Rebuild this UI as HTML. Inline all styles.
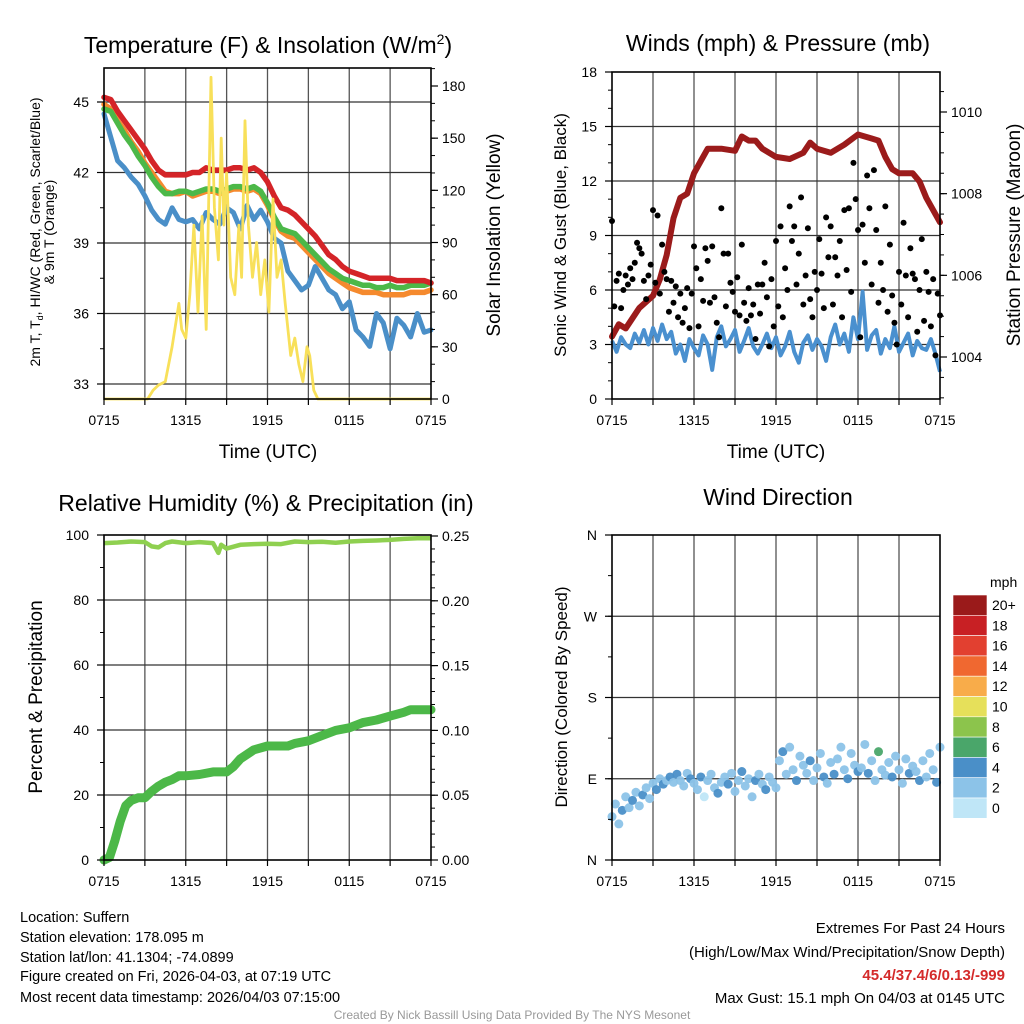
<!DOCTYPE html>
<html><head><meta charset="utf-8">
<style>
html,body{margin:0;padding:0;background:#fff;}
svg{display:block;font-family:"Liberation Sans",Arial,sans-serif;}
</style></head>
<body>
<svg id="chart" width="1024" height="1024" viewBox="0 0 1024 1024" xmlns="http://www.w3.org/2000/svg">
<g id="static">
<text x="268" y="53" font-size="23" text-anchor="middle">Temperature (F) &amp; Insolation (W/m<tspan font-size="14" dy="-9">2</tspan><tspan dy="9">)</tspan></text>
<text x="778" y="51" font-size="23" text-anchor="middle">Winds (mph) &amp; Pressure (mb)</text>
<text x="266" y="511" font-size="23" text-anchor="middle">Relative Humidity (%) &amp; Precipitation (in)</text>
<text x="778" y="505" font-size="23" text-anchor="middle">Wind Direction</text>

<text x="268" y="458" font-size="19" text-anchor="middle">Time (UTC)</text>
<text x="776" y="458" font-size="19" text-anchor="middle">Time (UTC)</text>

<g font-size="14" text-anchor="middle">
<text transform="translate(40,232) rotate(-90)">2m T, T<tspan font-size="9" dy="3">d</tspan><tspan dy="-3">, HI/WC (Red, Green, Scarlet/Blue)</tspan></text>
<text transform="translate(54,232) rotate(-90)">&amp; 9m T (Orange)</text>
</g>
<text transform="translate(500,235) rotate(-90)" font-size="19" text-anchor="middle">Solar Insolation (Yellow)</text>
<text transform="translate(566,235) rotate(-90)" font-size="17" text-anchor="middle">Sonic Wind &amp; Gust (Blue, Black)</text>
<text transform="translate(1020,235) rotate(-90)" font-size="19" text-anchor="middle">Station Pressure (Maroon)</text>
<text transform="translate(42,697) rotate(-90)" font-size="19" text-anchor="middle">Percent &amp; Precipitation</text>
<text transform="translate(567,697) rotate(-90)" font-size="17" text-anchor="middle">Direction (Colored By Speed)</text>

<g font-size="14.5">
<text x="20" y="922">Location: Suffern</text>
<text x="20" y="942">Station elevation: 178.095 m</text>
<text x="20" y="962">Station lat/lon: 41.1304; -74.0899</text>
<text x="20" y="981">Figure created on Fri, 2026-04-03, at 07:19 UTC</text>
<text x="20" y="1002">Most recent data timestamp: 2026/04/03 07:15:00</text>
</g>
<g font-size="15" text-anchor="end">
<text x="1005" y="933">Extremes For Past 24 Hours</text>
<text x="1005" y="957">(High/Low/Max Wind/Precipitation/Snow Depth)</text>
<text x="1005" y="980" fill="#d42a2a" font-weight="bold">45.4/37.4/6/0.13/-999</text>
<text x="1005" y="1003">Max Gust: 15.1 mph On 04/03 at 0145 UTC</text>
</g>
<text x="512" y="1019" font-size="12" fill="#999" text-anchor="middle">Created By Nick Bassill Using Data Provided By The NYS Mesonet</text>
</g>
<g id="dyn"></g>
</svg>
<script>
// ---------- data ----------
const timeTickLabels = ["0715","1315","1915","0115","0715"];
const tempTickValues = [33,36,39,42,45];
const insolTickValues = [0,30,60,90,120,150,180];
const windTickValues = [0,3,6,9,12,15,18];
const pressTickValues = [1004,1006,1008,1010];
const rhTickValues = [0,20,40,60,80,100];
const precipTickValues = [0,0.05,0.1,0.15,0.2,0.25];
const dirTickLabels = ["N","E","S","W","N"];
const speedBinLabels = ["0","2","4","6","8","10","12","14","16","18","20+"];
const speedBinColors = ["#bfe6f7","#8cc3e8","#4a8fc8","#4aa66a","#8cc44c","#e6e05a","#f8ac4a","#f06830","#e24030","#c82024","#9a1a1a"];

// half-hourly temperatures (F), h = 0..24
const redTemp = [45.2,45.1,44.6,44.2,43.8,43.4,43.0,42.5,42.1,41.9,41.9,41.9,41.9,42.0,42.0,42.2,42.1,42.1,42.1,42.2,42.2,42.1,42.2,42.0,41.6,41.0,40.5,40.4,40.2,39.9,39.6,39.3,38.9,38.5,38.3,38.0,37.8,37.7,37.6,37.5,37.5,37.5,37.5,37.4,37.4,37.4,37.4,37.4,37.3];
const greenTemp = [44.7,44.6,44.1,43.6,43.2,42.7,42.3,41.8,41.4,41.1,41.1,41.2,41.2,41.1,41.2,41.3,41.3,41.2,41.3,41.4,41.4,41.3,41.4,41.2,40.7,40.1,39.6,39.5,39.4,39.1,38.8,38.5,38.2,37.9,37.7,37.5,37.4,37.3,37.2,37.2,37.1,37.1,37.2,37.1,37.1,37.2,37.2,37.2,37.3];
const orangeTemp = [44.9,44.7,44.2,43.8,43.3,42.9,42.4,42.0,41.6,41.2,41.1,41.1,41.2,41.0,41.1,41.2,41.2,41.1,41.2,41.3,41.3,41.2,41.3,41.1,40.6,40.0,39.5,39.3,39.2,38.9,38.6,38.3,38.0,37.7,37.5,37.3,37.1,37.0,36.9,36.9,36.9,36.8,36.8,36.8,36.8,36.9,36.9,36.9,37.0];
const dewTemp = [44.5,43.5,42.5,42.2,41.8,41.5,41.0,40.4,40.0,39.8,40.5,40.0,39.9,40.0,39.6,40.3,40.0,39.8,40.5,40.3,39.6,40.6,40.0,40.4,39.9,39.2,39.0,37.8,37.4,37.0,37.2,38.0,37.5,37.0,36.8,36.2,36.5,35.3,35.0,34.6,36.0,35.6,34.5,35.8,35.5,35.0,36.0,35.2,35.3];

const insolTimes = [0,3.2,3.6,4,4.5,5,5.5,5.7,6,6.3,6.6,6.9,7.2,7.5,7.7,7.85,8.1,8.4,8.6,8.8,9,9.3,9.6,9.9,10.1,10.35,10.6,10.9,11.2,11.5,11.8,12.1,12.4,12.7,13,13.3,13.7,14,14.3,14.6,14.9,15.1,15.4,15.7,24];
const insolValues = [0,0,5,8,10,30,55,40,35,60,100,50,105,40,120,185,110,80,150,100,130,70,60,100,70,160,100,70,90,60,80,50,115,70,80,55,25,35,20,10,30,25,5,0,0];

// 20-min sonic wind (mph)
const sonicWind = [3.2,2.6,3.4,3.0,2.8,3.6,3.1,3.8,3.0,3.9,3.2,4.1,3.3,3.7,2.5,3.0,2.1,3.3,2.8,2.4,3.5,3.0,1.6,3.4,4.0,2.9,3.3,3.8,2.6,3.2,3.9,2.9,2.5,3.0,3.6,2.8,3.4,2.4,2.9,3.7,2.6,2.0,3.1,3.5,2.7,3.3,2.9,2.1,3.4,4.1,3.0,3.6,2.6,4.5,3.3,5.9,2.7,3.5,3.8,2.5,3.3,2.8,4.0,2.6,3.1,3.6,2.4,3.2,2.8,2.7,3.3,2.5,1.5];
// 10-min gusts (mph)
const gustValues = [9.8,5.1,6.5,6.9,5.0,6.0, 6.8,6.3,7.2,6.6,7.5,8.6, 8.3,8.0,6.5,5.5,6.8,7.4, 10.4,6.4,10.1,5.8,8.5,7.0, 6.6,4.8,6.5,5.3,6.2,4.5, 5.8,4.2,5.0,6.1,3.9,5.8, 8.4,7.2,4.0,6.6,5.4,8.3, 7.6,5.3,8.4,5.6,4.2,3.4, 10.5,8.0,5.1,8.0,6.4,5.9, 4.8,6.7,4.6,8.5,5.3,4.3, 6.1,4.6,5.2,3.3,6.3,4.7, 6.3,7.5,5.6,2.9,6.6,4.0, 8.7,5.1,9.5,4.5,7.2,6.0, 10.6,8.7,9.5,6.3,8.0,11.1, 5.2,6.8,9.4,5.5,4.5,7.0, 6.0,8.8,6.9,5.0,10.0,7.8, 9.5,5.2,7.8,6.8,8.7,4.5, 10.4,7.1,10.5,5.9,13.0,11.0, 9.3,3.4,9.6,7.5,12.3,10.5, 6.3,12.6,9.3,5.3,7.5,6.0, 10.6,4.8,8.5,5.7,4.2,3.0, 7.0,5.2,9.7,6.8,4.5,8.3, 6.9,6.6,3.7,6.0,8.8,4.3, 7.0,5.9,4.0,6.6,2.4,5.8,4.6];

const pressTimes = [0,0.5,1,2,3,3.5,4,4.5,5,5.5,6,6.5,7,8,9,9.5,10,10.5,11,12,13,14,14.5,15,16,17,18,19,19.5,20,20.5,21,22,22.5,23,24];
const pressValues = [1004.5,1004.8,1004.7,1005.2,1005.5,1005.9,1006.5,1007.4,1007.9,1008.0,1008.5,1008.8,1009.1,1009.1,1009.05,1009.4,1009.3,1009.3,1009.1,1008.9,1008.85,1009.0,1009.25,1009.1,1009.0,1009.2,1009.45,1009.35,1009.3,1008.9,1008.6,1008.5,1008.5,1008.3,1007.9,1007.3];

const rhTimes = [0,1,2,3,3.5,4,4.5,5,6,7,8,8.4,8.6,9,10,11,12,13,14,15,16,17,18,19,20,21,22,23,24];
const rhValues = [97.5,97.7,98,97.8,96.5,96.2,97.5,98,97.5,97.8,97.5,94.5,97,95.8,97,97.2,97.3,97.2,98,97.8,97.9,97.6,98,98.2,98.3,98.5,98.8,99,99];
const precipTimes = [0,0.4,0.8,1.2,1.6,2,2.5,3,3.5,4,4.5,5,5.5,6,7,8,9,9.5,10,11,12,13,13.5,14,15,16,17,18,19,20,21,22,22.5,23,24];
const precipValues = [0,0.002,0.015,0.03,0.042,0.046,0.048,0.048,0.053,0.057,0.06,0.062,0.065,0.065,0.066,0.068,0.068,0.072,0.078,0.085,0.088,0.088,0.088,0.09,0.092,0.096,0.1,0.102,0.106,0.108,0.111,0.114,0.116,0.116,0.116];

// 15-min wind direction (deg) and speed (mph)
const dirValues = [48,62,40,55,70,58,66,75,60, 72,80,68,85,78,90,84,88, 92,86,95,88,82,96,90,85, 78,92,70,88,95,80,74,86, 92,84,96,76,88,98,82,90, 70,88,95,84,78,92,86,80, 110,120,95,125,100,88,115,105, 96,110,88,102,118,92,85,108, 95,112,125,100,90,118,105,98, 102,128,96,110,88,120,100,94, 108,92,115,100,85,112,96,104, 98,88,110,92,118,100,86,125];
const speedValues = [2.5,3,2.2,4.5,2,2.8,4.6,2.4,3.1, 4.8,2.6,3.4,2.1,4.9,2.7,4.3,2.5, 4.6,2.3,4.8,2.9,2.2,3.5,4.6,3.1, 2.4,4.7,1.5,2.8,3.4,2.2,4.9,2.6, 3.2,4.5,3.6,2.1,2.9,4.8,2.4,3.3, 2.2,4.5,2.7,2.3,4.6,2.8,2.1,3.4, 2.6,4.8,2.4,3.1,2.2,4.6,2.8,2.5, 2.3,4.7,2.6,3.2,2.4,4.5,2.9,2.2, 4.6,2.5,3.2,2.4,4.8,2.7,2.2,4.5, 2.8,2.4,4.6,2.6,3.2,6.2,2.5,3.0, 2.4,4.4,2.6,3.5,2.2,2.9,4.7,2.5, 2.6,4.3,2.4,3.6,2.2,2.8,4.4,2.5];

// ---------- drawing ----------
const NS = "http://www.w3.org/2000/svg";
const root = document.getElementById("dyn");
function mk(tag, attrs, parent){
  const e = document.createElementNS(NS, tag);
  for (const k in attrs) e.setAttribute(k, attrs[k]);
  (parent||root).appendChild(e);
  return e;
}
function lin(d0,d1,r0,r1){ return v => r0 + (v-d0)*(r1-r0)/(d1-d0); }
function evenTimes(n){ const a=[]; for(let i=0;i<n;i++) a.push(i*24/(n-1)); return a; }
function pathFrom(ts, vs, xs, ys){
  return ts.map((t,i)=>(i?"L":"M")+xs(t).toFixed(1)+","+ys(vs[i]).toFixed(1)).join(" ");
}

const panels = {
  temp:{x0:104,x1:431,y0:68,y1:399},
  wind:{x0:612,x1:940,y0:72,y1:399},
  rh:{x0:104,x1:431,y0:535,y1:860},
  dir:{x0:612,x1:940,y0:535,y1:860}
};

function drawGridAndFrame(p, name, hVals, yScale){
  const g = mk("g", {});
  
  
  const xs = lin(0,24,p.x0,p.x1);
  for (let h=3; h<24; h+=3){
    mk("line",{x1:xs(h),x2:xs(h),y1:p.y0,y2:p.y1,stroke:"#555","stroke-width":1.3},g);
  }
  hVals.forEach(v=>{
    const y=yScale(v);
    mk("line",{x1:p.x0,x2:p.x1,y1:y,y2:y,stroke:"#333","stroke-width":1.3},g);
  });
  return xs;
}
function drawFrame(p, name){
  const r = mk("rect",{x:p.x0,y:p.y0,width:p.x1-p.x0,height:p.y1-p.y0,fill:"none",stroke:"#000","stroke-width":1.6});
  
  
}
function drawXTicks(p, name){
  const xs = lin(0,24,p.x0,p.x1);
  const g = mk("g",{"font-size":14,"text-anchor":"middle"});
  
  
  for (let h=0; h<=24; h+=3){
    mk("line",{x1:xs(h),x2:xs(h),y1:p.y1,y2:p.y1+6,stroke:"#000","stroke-width":1.2},g);
  }
  timeTickLabels.forEach((l,i)=>{
    const t = mk("text",{x:xs(i*6),y:p.y1+26},g); t.textContent=l;
  });
}
function drawYTicks(p, vals, ys, labels, side, name, minorStep, dmin, dmax){
  const g = mk("g",{"font-size":14,"text-anchor":side==="left"?"end":"start"});
  
  
  const x = side==="left"?p.x0:p.x1, dir = side==="left"?-1:1;
  if (minorStep){
    for (let v=dmin; v<=dmax+1e-9; v+=minorStep){
      const y=ys(v); if(y<p.y0-0.5||y>p.y1+0.5) continue;
      mk("line",{x1:x,x2:x+dir*4,y1:y,y2:y,stroke:"#000","stroke-width":1},g);
    }
  }
  vals.forEach((v,i)=>{
    const y=ys(v);
    mk("line",{x1:x,x2:x+dir*7,y1:y,y2:y,stroke:"#000","stroke-width":1.2},g);
    const t=mk("text",{x:x+dir*(side==="left"?15:11),y:y+5},g); t.textContent=labels[i];
  });
}

// ---- Panel 1: temperature ----
(function(){
  const p=panels.temp;
  const yT = lin(33,45,384,102);
  const yI = lin(0,180,399,86);
  const xs = drawGridAndFrame(p,"temperature",tempTickValues,yT);
  const ht = evenTimes(49);
  const series=[[dewTemp,"#4a8fc8","dewpoint-line"],[orangeTemp,"#f58a2e","nine-meter-temp-line"],[greenTemp,"#4cb848","two-meter-temp-line"],[redTemp,"#d42428","heat-index-line"]];
  series.forEach(s=>{
    const e=mk("path",{d:pathFrom(ht,s[0],xs,yT),fill:"none",stroke:s[1],"stroke-width":s[2]==="dewpoint-line"?5:5.5,"stroke-linejoin":"round","stroke-linecap":"round"});
    
    
  });
  const ins=mk("path",{d:pathFrom(insolTimes,insolValues,xs,yI),fill:"none",stroke:"#f8e05a","stroke-width":2.8,"stroke-linejoin":"round"});
  
  
  drawFrame(p,"temperature");
  drawXTicks(p,"temperature");
  drawYTicks(p,tempTickValues,yT,tempTickValues.map(String),"left","temperature-y-axis",1.5,31.5,46.5);
  drawYTicks(p,insolTickValues,yI,insolTickValues.map(String),"right","insolation-y-axis",10,0,190);
})();

// ---- Panel 2: winds ----
(function(){
  const p=panels.wind;
  const yW = lin(0,18,399,72);
  const yP = lin(1004,1010,357,112);
  const xs = drawGridAndFrame(p,"winds",[3,6,9,12,15],yW);
  const tw = evenTimes(sonicWind.length);
  const w=mk("path",{d:pathFrom(tw,sonicWind,xs,yW),fill:"none",stroke:"#4a90cf","stroke-width":4,"stroke-linejoin":"round"});
  
  
  const pr=mk("path",{d:pathFrom(pressTimes,pressValues,xs,yP),fill:"none",stroke:"#9b1b1b","stroke-width":6,"stroke-linejoin":"round","stroke-linecap":"round"});
  
  
  const tg = evenTimes(gustValues.length);
  const gg=mk("g",{});
  
  
  gustValues.forEach((v,i)=>{
    const c=mk("circle",{cx:xs(tg[i]),cy:yW(v),r:3,fill:"#000"},gg);
    
    
  });
  drawFrame(p,"winds");
  drawXTicks(p,"winds");
  drawYTicks(p,windTickValues,yW,windTickValues.map(String),"left","wind-y-axis",1,0,18);
  drawYTicks(p,pressTickValues,yP,pressTickValues.map(String),"right","pressure-y-axis",0.5,1003,1011);
})();

// ---- Panel 3: RH & precip ----
(function(){
  const p=panels.rh;
  const yR = lin(0,100,860,535);
  const yPr = lin(0,0.25,860,536);
  const xs = drawGridAndFrame(p,"humidity",[20,40,60,80],yR);
  const rh=mk("path",{d:pathFrom(rhTimes,rhValues,xs,yR),fill:"none",stroke:"#8fd050","stroke-width":4.5,"stroke-linejoin":"round"});
  
  
  const pc=mk("path",{d:pathFrom(precipTimes,precipValues,xs,yPr),fill:"none",stroke:"#4cb848","stroke-width":9,"stroke-linejoin":"round","stroke-linecap":"round"});
  
  
  drawFrame(p,"humidity");
  drawXTicks(p,"humidity");
  drawYTicks(p,rhTickValues,yR,rhTickValues.map(String),"left","humidity-y-axis",10,0,100);
  drawYTicks(p,precipTickValues,yPr,precipTickValues.map(v=>v.toFixed(2)),"right","precipitation-y-axis",0.01,0,0.29);
})();

// ---- Panel 4: wind direction ----
(function(){
  const p=panels.dir;
  const yD = lin(0,360,860,535);
  const xs = drawGridAndFrame(p,"direction",[90,180,270],yD);
  const td = evenTimes(dirValues.length);
  const gg=mk("g",{});
  
  
  dirValues.forEach((v,i)=>{
    const bin=Math.min(10,Math.max(0,Math.floor(speedValues[i]/2)));
    const c=mk("circle",{cx:xs(td[i]),cy:yD(v),r:4.5,fill:speedBinColors[bin],"fill-opacity":0.95},gg);
    
    
  });
  drawFrame(p,"direction");
  drawXTicks(p,"direction");
  drawYTicks(p,[0,90,180,270,360],yD,dirTickLabels,"left","direction-y-axis",45,0,360);
  // colorbar
  const cb=mk("g",{"font-size":14});
  
  
  const t0=mk("text",{x:990,y:587},cb); t0.textContent="mph";
  const boxH=20.3, top=595;
  speedBinColors.forEach((c,i)=>{
    const idx=speedBinColors.length-1-i;
    const y=top+i*boxH;
    const r=mk("rect",{x:953,y:y,width:34,height:boxH,fill:speedBinColors[idx],stroke:"#fff","stroke-width":0.6},cb);
    
    
    const t=mk("text",{x:992,y:y+15},cb); t.textContent=speedBinLabels[idx];
  });
})();
</script>
</body></html>
